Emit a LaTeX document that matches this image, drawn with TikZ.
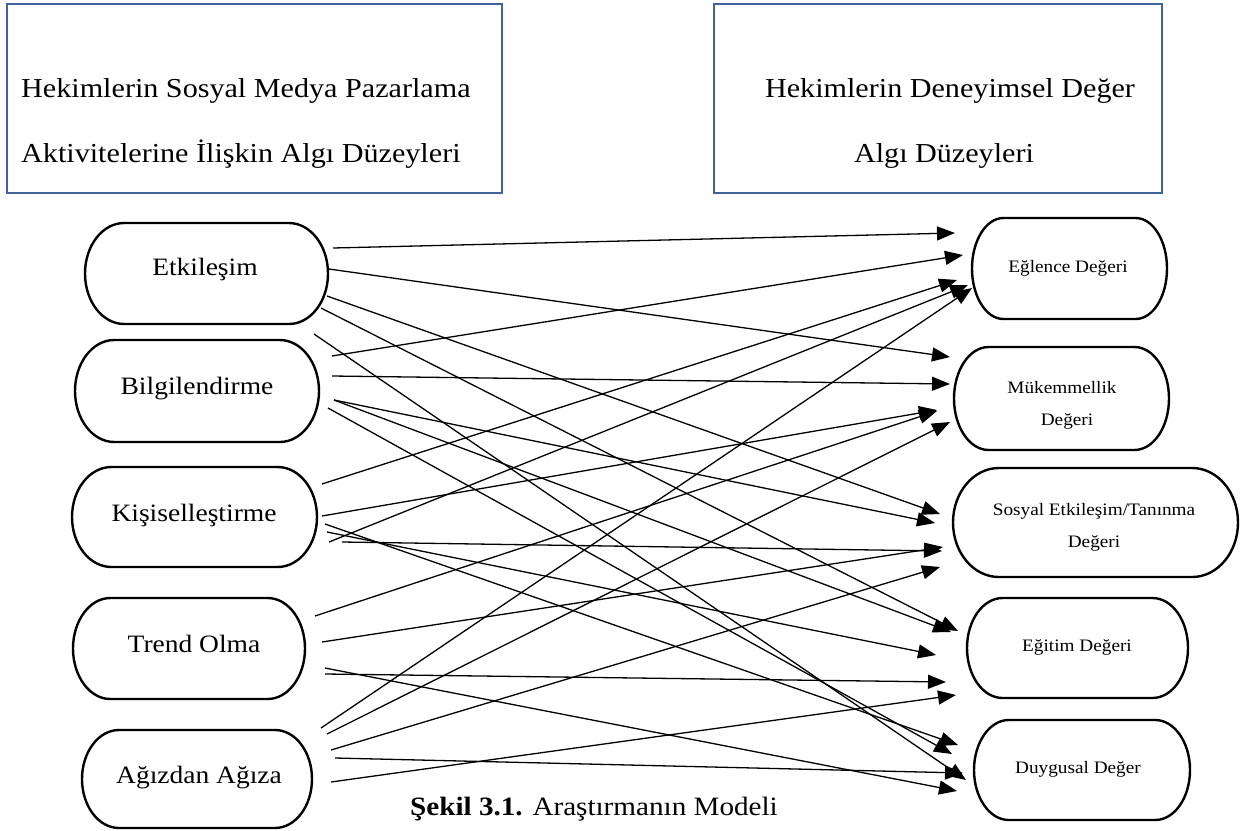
\documentclass[tikz,border=0pt]{standalone}
\usepackage{fontspec}
\setmainfont{Liberation Serif}[FakeStretch=1.1]
\usetikzlibrary{arrows.meta}
\definecolor{frameblue}{HTML}{41639B}

% terminator-style box: flat top and bottom, elliptical ends
\newcommand\pillshape[5]{%
  \pgfmathsetmacro\pillrx{0.161*#4}%
  \node[pillframe, minimum width=#4pt, minimum height=#5pt] (#1) at (#2,-#3) {};
  \draw[pillline] ([xshift=-\pillrx pt]#1.south east)
    arc[start angle=-90, end angle=90, x radius=\pillrx pt, y radius=#5pt/2]
    -- ([xshift=\pillrx pt]#1.north west)
    arc[start angle=90, end angle=270, x radius=\pillrx pt, y radius=#5pt/2]
    -- cycle;
}

\tikzset{
  hdrbox/.style={draw=frameblue, line width=2.5pt, inner sep=0pt, outer sep=0pt, anchor=north west},
  hdrtext/.style={inner sep=0pt, font=\fontsize{27.4}{32}\selectfont},
  pillframe/.style={shape=rectangle, inner sep=0pt, outer sep=0pt},
  pillline/.style={line width=2.4pt, black},
  lefttext/.style={inner sep=0pt, anchor=base, font=\fontsize{25}{30}\selectfont},
  righttext/.style={inner sep=0pt, anchor=base, font=\fontsize{17.5}{21}\selectfont},
  captext/.style={inner sep=0pt, anchor=base, font=\fontsize{26.5}{30}\selectfont},
  link/.style={line width=1.3pt, -{Triangle[length=18pt, width=14pt]}},
}

\begin{document}
\begin{tikzpicture}[x=1pt, y=1pt]
\fill[white] (0,0) rectangle (1252,-830);
\useasboundingbox (0,0) rectangle (1252,-830);

% header frames
\node[hdrbox, minimum width=495pt, minimum height=189pt] (hdrL) at (7,-4) {};
\node[hdrbox, minimum width=448pt, minimum height=189pt] (hdrR) at (714,-4) {};
\node[hdrtext, anchor=base west] (hdrL1) at (21,-97) {Hekimlerin Sosyal Medya Pazarlama};
\node[hdrtext, anchor=base west] (hdrL2) at (21,-162) {Aktivitelerine İlişkin Algı Düzeyleri};
\node[hdrtext, anchor=base] (hdrR1) at (950,-97) {Hekimlerin Deneyimsel Değer};
\node[hdrtext, anchor=base] (hdrR2) at (944,-162) {Algı Düzeyleri};

% source constructs
\pillshape{etk}{206.5}{273.5}{243}{101}
\pillshape{bil}{197}{391}{244}{102}
\pillshape{kis}{194.5}{517}{245}{100}
\pillshape{trd}{189}{648.5}{232}{101}
\pillshape{agz}{197}{779}{230}{98}
\node[lefttext] (etk-t) at (205,-275) {Etkileşim};
\node[lefttext] (bil-t) at (197,-394) {Bilgilendirme};
\node[lefttext] (kis-t) at (194,-521) {Kişiselleştirme};
\node[lefttext] (trd-t) at (194,-652) {Trend Olma};
\node[lefttext] (agz-t) at (199,-783) {Ağızdan Ağıza};

% experiential value constructs
\pillshape{egl}{1069.5}{268.5}{195}{101}
\pillshape{muk}{1061.5}{398.5}{215}{103}
\pillshape{sos}{1095.5}{522.5}{285}{109}
\pillshape{egt}{1077.5}{648}{221}{100}
\pillshape{duy}{1082}{770}{216}{100}
\node[righttext] (egl-t) at (1068,-272) {Eğlence Değeri};
\node[righttext] (muk-t1) at (1062,-393) {Mükemmellik};
\node[righttext] (muk-t2) at (1067,-425) {Değeri};
\node[righttext] (sos-t1) at (1094,-515) {Sosyal Etkileşim/Tanınma};
\node[righttext] (sos-t2) at (1094,-547) {Değeri};
\node[righttext] (egt-t) at (1077,-651) {Eğitim Değeri};
\node[righttext] (duy-t) at (1078,-773) {Duygusal Değer};

% paths: start point / arrow tip
\foreach \n/\sx/\sy/\tx/\ty in {
  1/333/248/955/233, 2/329/269/950/357, 3/327/296/940/514, 4/321/308/958/631, 5/314/334/966/780,
  6/332/356/963/255, 7/332/376/950/384, 8/334/400/935/523, 9/334/400/951/632, 10/328/408/952/754,
  11/322/484/957/280, 12/322/516/937/410, 13/325/524/958/745, 14/327/532/936/655, 15/329/542/968/285,
  16/342/542/942/551, 17/315/616/937/411, 18/322/642/943/547, 19/325/668/957/791, 20/325/674/946/682,
  21/321/728/972/288, 22/327/734/950/422, 23/331/750/940/567, 24/335/758/963/773, 25/331/782/956/695}
{
  \coordinate (s\n) at (\sx,-\sy);
  \coordinate (t\n) at (\tx,-\ty);
  \draw[link] (s\n) -- (t\n);
}

% caption
\node[captext] (cap) at (594,-815) {\textbf{Şekil 3.1.} Araştırmanın Modeli};
\end{tikzpicture}
\end{document}
